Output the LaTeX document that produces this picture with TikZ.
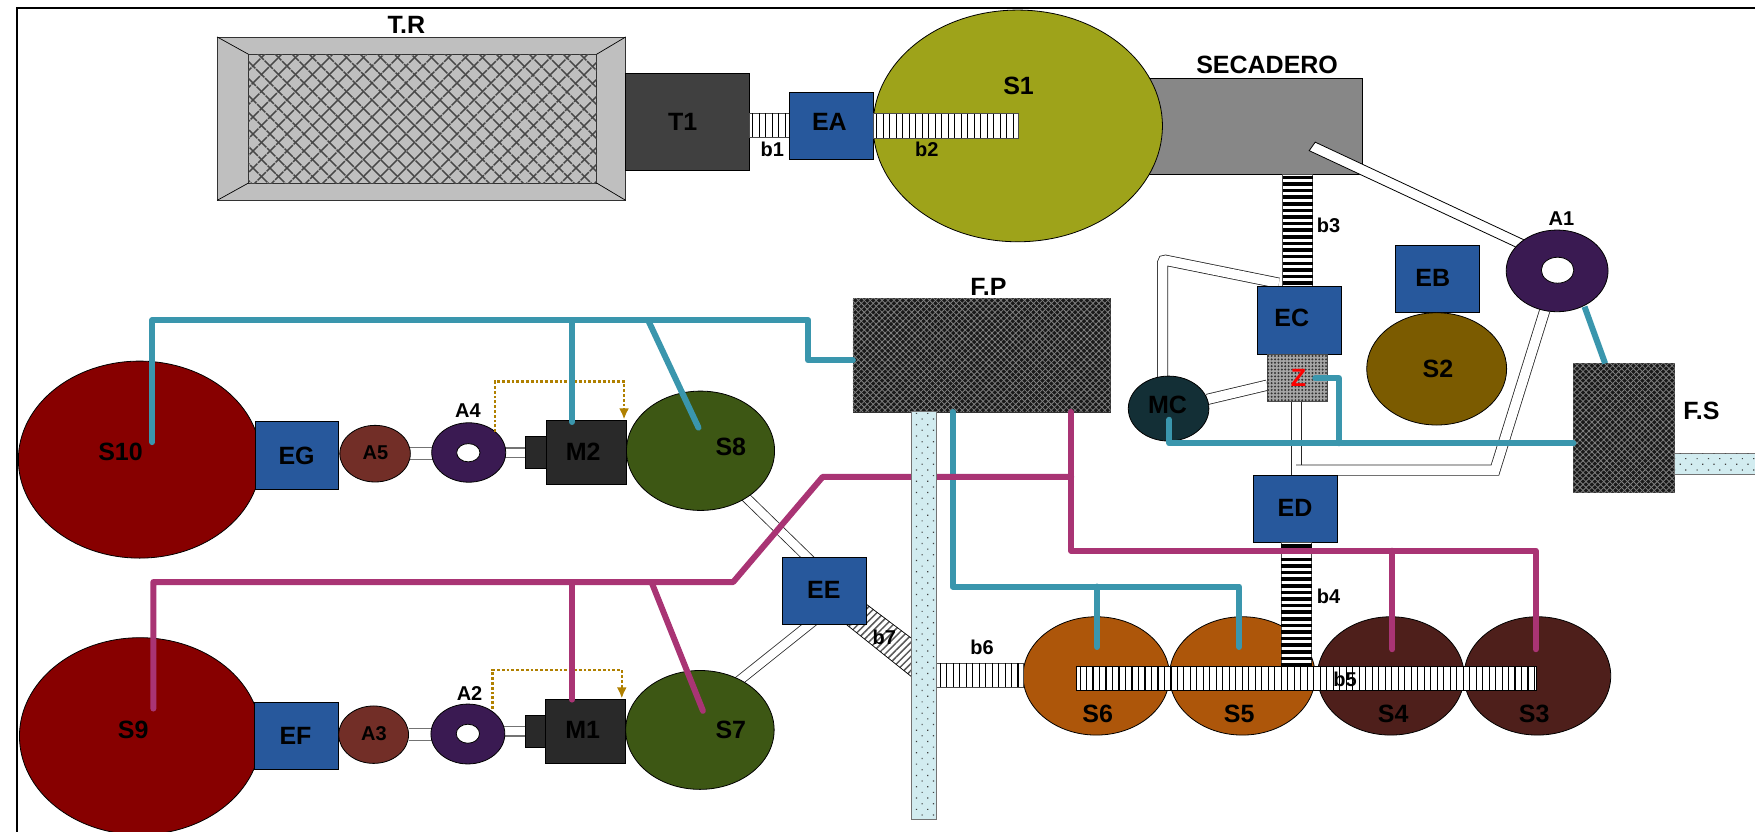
\documentclass[tikz,border=0pt]{standalone}
\usepackage{fontspec}
\setmainfont{Liberation Sans}
\usetikzlibrary{shapes.geometric,patterns.meta,arrows.meta,calc}
\definecolor{cblue}{HTML}{27589C}
\definecolor{cteal}{HTML}{3A96AD}
\definecolor{cmag}{HTML}{A93474}
\definecolor{cpur}{HTML}{3A1A52}
\definecolor{cred}{HTML}{870000}
\definecolor{cgreen}{HTML}{3D5714}
\definecolor{corange}{HTML}{AD560A}
\definecolor{cbrown}{HTML}{4E1F1B}
\definecolor{colive}{HTML}{9EA31A}
\definecolor{cochre}{HTML}{7B5B00}
\definecolor{cmc}{HTML}{132F36}
\definecolor{ca}{HTML}{722E27}
\definecolor{cdash}{HTML}{B08000}
\definecolor{cbelt}{HTML}{D2ECF0}
\pgfdeclarelayer{back}
\pgfsetlayers{back,main}
\newcommand\RB[6]{%
  \pgfmathsetmacro\mycx{(#3+#5)/2}\pgfmathsetmacro\mycy{(#4+#6)/2}%
  \pgfmathsetmacro\myw{(#5-#3)*1.1193}\pgfmathsetmacro\myh{(#6-#4)*1.1193}%
  \node[rectangle,inner sep=0pt,outer sep=0pt,minimum width=\myw pt,minimum height=\myh pt,#1] (#2) at (\mycx,\mycy) {};}
\newcommand\EL[6]{%
  \pgfmathsetmacro\mycx{(#3+#5)/2}\pgfmathsetmacro\mycy{(#4+#6)/2}%
  \pgfmathsetmacro\myw{(#5-#3)*1.1193}\pgfmathsetmacro\myh{(#6-#4)*1.1193}%
  \node[ellipse,inner sep=0pt,outer sep=0pt,minimum width=\myw pt,minimum height=\myh pt,#1] (#2) at (\mycx,\mycy) {};}
% vertical and horizontal stripes of a band
\newcommand\VST[4]{%
  \pgfmathsetmacro\sta{#1+2.9}\pgfmathsetmacro\stb{#1+8.7}%
  \foreach \sx in {\sta,\stb,...,#3} \draw[line width=1.1pt,black] (\sx,#2) -- (\sx,#4);}
\newcommand\HST[4]{%
  \pgfmathsetmacro\sta{#2+2.9}\pgfmathsetmacro\stb{#2+8.8}%
  \foreach \sy in {\sta,\stb,...,#4} \draw[line width=3.5pt,black] (#1,\sy) -- (#3,\sy);}
\tikzset{
  x=1.1193pt,y=-1.1193pt,
  shp/.style={draw=black,line width=.8pt},
  bluebox/.style={shp,fill=cblue},
  lab/.style={inner sep=0pt,font=\bfseries\fontsize{25}{25}\selectfont},
  slab/.style={inner sep=0pt,font=\bfseries\fontsize{20}{20}\selectfont},
  band/.style={draw=black!70,line width=.8pt,fill=white},
  darkhatch/.style={draw=black!80,line width=.8pt,fill=black!90,
    postaction={pattern={Lines[angle=45,distance=4.2pt,line width=.8pt]},pattern color=black!50},
    postaction={pattern={Lines[angle=-45,distance=4.2pt,line width=.8pt]},pattern color=black!50}},
  trhatch/.style={draw=black!80,line width=.8pt,fill=black!25,
    postaction={pattern={Lines[angle=45,distance=13pt,line width=1.6pt]},pattern color=black!72},
    postaction={pattern={Lines[angle=-45,distance=13pt,line width=1.6pt]},pattern color=black!72}},
  zdots/.style={draw=black!70,line width=.8pt,fill=black!35,
    postaction={pattern={Dots[distance=3.4pt,radius=1.1pt]},pattern color=black!80}},
  beltdots/.style={draw=black!55,line width=.9pt,fill=cbelt,
    postaction={pattern={Dots[angle=45,distance=8pt,radius=.85pt]},pattern color=black!75}},
  diag/.style={draw=black,line width=.7pt,preaction={fill=white},pattern={Lines[angle=45,distance=5pt,line width=1.5pt]},pattern color=black!65},
  pipe/.style={draw=black!85,line width=.8pt,double=white,double distance=#1},
  pipe/.default=9.5pt,
  gpipe/.style={draw=black!55,line width=1.2pt,double=white,double distance=#1},
  tealw/.style={draw=cteal,line width=6pt,line cap=round,line join=round},
  magw/.style={draw=cmag,line width=6pt,line cap=round,line join=round},
  dashy/.style={draw=cdash,line width=2.4pt,dash pattern=on 2.8pt off 2pt,-{Latex[length=11pt,width=10pt]}},
}
\begin{document}
\begin{tikzpicture}
\useasboundingbox (0,0) rectangle (1567.9,743.3);
% frame
\draw[line width=2.3pt] (15.3,743.3) coordinate (fbl) -- (15.3,7.2) coordinate (ftl) -- (1567.9,7.2) coordinate (ftr);
% T.R
\RB{shp,fill=black!25,draw=black!80}{TR}{194}{33}{559}{179}
\RB{trhatch}{TRin}{222}{48.5}{533}{163.5}
\draw[line width=.7pt] (TR.north west)--(TRin.north west) (TR.north east)--(TRin.north east) (TR.south west)--(TRin.south west) (TR.south east)--(TRin.south east);
\node[lab] (lTR) at (363,22) {T.R};
\RB{shp,fill=black!75}{T1}{559}{66}{669.5}{152.5}
\node[lab] (lT1) at (610,109) {T1};
\RB{band}{b1}{669.5}{101}{705}{122.7}
\VST{669.5}{101}{705}{122.7}
\node[slab] (lb1) at (690,133) {b1};
% secadero and S1
\RB{shp,fill=black!47}{SEC}{1000}{70}{1217}{155.6}
\node[lab] (lSEC) at (1132,58) {SECADERO};
\EL{shp,fill=colive}{S1}{780}{9}{1038.5}{216}
\node[lab] (lS1) at (910,77) {S1};
\RB{bluebox}{EA}{705}{82.5}{780.4}{142.4}
\node[lab] (lEA) at (741,109) {EA};
\RB{band}{b2}{780.4}{101.5}{909.5}{123.5}
\VST{780.4}{101.5}{909.5}{123.5}
\node[slab] (lb2) at (828,133) {b2};
% b3
\RB{band}{b3}{1145.8}{155.6}{1172.7}{256}
\HST{1145.8}{155.6}{1172.7}{256}
\node[slab] (lb3) at (1187,201) {b3};
% right group
\filldraw[draw=black,fill=white,line width=.8pt] (1175,127) -- (1169.6,134.6) -- (1372,229) -- (1378,222) -- cycle;
\EL{shp,fill=cpur}{A1}{1345.6}{205.5}{1436.6}{278.5}
\EL{shp,fill=white}{A1h}{1377}{229.8}{1406}{253}
\node[slab] (lA1) at (1395,195) {A1};
\RB{bluebox}{EC}{1123}{256}{1198}{316.5}
\node[lab] (lEC) at (1154,284) {EC};
\RB{zdots}{Z}{1132}{316.5}{1186}{359}
\node[lab,text=red] (lZ) at (1160,337.5) {Z};
\EL{shp,fill=cmc}{MC}{1008}{336}{1080}{394}
\node[lab] (lMC) at (1043,362) {MC};
\RB{bluebox}{EB}{1246.6}{219}{1321.6}{279}
\node[lab] (lEB) at (1280,248) {EB};
\EL{shp,fill=cochre}{S2}{1221}{279.4}{1346}{379.7}
\node[lab] (lS2) at (1284.6,330) {S2};
\RB{bluebox}{ED}{1119.6}{425}{1194.4}{485}
\node[lab] (lED) at (1157,454) {ED};
\RB{darkhatch}{FS}{1405.6}{324.7}{1496}{439.6}
\node[lab] (lFS) at (1520,367) {F.S};
\RB{beltdots}{FSb}{1496}{405}{1580}{423.7}
\begin{pgfonlayer}{back}
  \coordinate (c1) at (1038.7,232);
  \coordinate (c2) at (1142.5,253);
  \coordinate (c3) at (1335.6,420);
  \coordinate (c4) at (1158,420);
  \coordinate (c7) at (1038.7,345);
  \draw[pipe,rounded corners=3pt] (c7) -- (c1) -- (c2);
  \draw[pipe] (MC) -- (Z);
  \RB{draw=black!85,line width=.8pt,fill=white}{ZED}{1153.5}{359}{1162.6}{425}
  \draw[pipe] (A1) -- (c3) -- (c4);
\end{pgfonlayer}
% bottom right tanks
\EL{shp,fill=corange}{S6}{914}{551}{1044.8}{656.7}
\EL{shp,fill=corange}{S5}{1044.8}{551}{1175}{656.7}
\EL{shp,fill=cbrown}{S4}{1177}{551}{1308}{656.7}
\EL{shp,fill=cbrown}{S3}{1308}{551}{1439}{656.7}
\node[lab] (lS6) at (980.6,638) {S6};
\node[lab] (lS5) at (1107,638) {S5};
\node[lab] (lS4) at (1244.6,638) {S4};
\node[lab] (lS3) at (1370.6,638) {S3};
\RB{band}{b4}{1144.6}{485}{1172}{595.6}
\HST{1144.6}{485}{1172}{595.6}
\node[slab] (lb4) at (1187,533) {b4};
\RB{band,draw=black}{b5}{962}{595.6}{1372.4}{617}
\VST{962}{595.6}{1372.4}{617}
\node[slab] (lb5) at (1201.7,606.6) {b5};
\RB{band}{b6}{837}{592.4}{914}{613.9}
\VST{837}{592.4}{914}{613.9}
\node[slab] (lb6) at (877.4,578.6) {b6};
% left tanks
\EL{shp,fill=cred}{S10}{16.4}{322.6}{233}{498.6}
\node[lab] (lS10) at (107.7,404) {S10};
\RB{bluebox}{EG}{227.8}{376.6}{302.6}{437}
\node[lab] (lEG) at (265,407) {EG};
\EL{shp,fill=ca}{A5}{303.6}{380}{366.6}{430.6}
\node[slab] (lA5) at (335.4,404.4) {A5};
\EL{shp,fill=cpur}{A4}{385.7}{377.7}{451.8}{430.8}
\EL{shp,fill=white}{A4h}{408}{396.3}{428.8}{412.6}
\node[slab] (lA4) at (418,367) {A4};
\RB{shp,fill=black!84}{M2s}{469.8}{390}{487.8}{418.7}
\RB{shp,fill=black!84}{M2}{487.8}{375.7}{559.7}{433}
\node[lab] (lM2) at (521,404) {M2};
\EL{shp,fill=cgreen}{S8}{559.7}{349.4}{692}{456}
\node[lab] (lS8) at (652.9,399) {S8};
\EL{shp,fill=cred}{S9}{17.4}{569.7}{233}{745.7}
\node[lab] (lS9) at (119,652) {S9};
\RB{bluebox}{EF}{227}{627.6}{302.6}{687.6}
\node[lab] (lEF) at (264,657) {EF};
\EL{shp,fill=ca}{A3}{302.6}{630.7}{365}{682}
\node[slab] (lA3) at (334,655.7) {A3};
\EL{shp,fill=cpur}{A2}{385}{629}{451}{682.5}
\EL{shp,fill=white}{A2h}{407.6}{647}{428.4}{664}
\node[slab] (lA2) at (419.5,619.7) {A2};
\RB{shp,fill=black!84}{M1s}{469.3}{639}{487}{668}
\RB{shp,fill=black!84}{M1}{487}{624.9}{559}{682}
\node[lab] (lM1) at (520.6,652.4) {M1};
\EL{shp,fill=cgreen}{S7}{559}{599}{691.6}{705.2}
\node[lab] (lS7) at (652.9,652.4) {S7};
% b7
\filldraw[diag] (773.7,539.6) -- (814.4,570.3) -- (814.4,604.6) -- (756.7,558.4) -- cycle;
\RB{bluebox}{EE}{698.6}{497.6}{774.4}{558}
\node[lab] (lEE) at (736,527) {EE};
\node[slab] (lb7) at (790,569) {b7};
\begin{pgfonlayer}{back}
  \coordinate (p1) at (650,428.4);
  \coordinate (p2) at (735,511.2);
  \coordinate (p3) at (735,548.4);
  \coordinate (p4) at (650,616.3);
  \draw[gpipe=11pt] (A5 -| A4) -- (A5);
  \draw[gpipe=8pt] (M2s -| A4) -- (M2s);
  \draw[gpipe=11pt] (A3 -| A2) -- (A3);
  \draw[gpipe=8pt] (M1s -| A2) -- (M1s);
  \draw[pipe=8.5pt] (p1) -- (p2);
  \draw[pipe=8.5pt] (p3) -- (p4);
\end{pgfonlayer}
% dashed
\coordinate (d1) at (442,341); \coordinate (d2) at (557.5,341);
\coordinate (d3) at (440,598.8); \coordinate (d4) at (555.5,598.8);
\draw[dashy] (442,386) coordinate (d0) -- (d1) -- (d2) -- (557.5,374.7) coordinate (d5);
\draw[dashy] (440,633.3) coordinate (d6) -- (d3) -- (d4) -- (555.5,624) coordinate (d7);
% F.P
\RB{darkhatch}{FP}{762}{267}{992}{368}
\node[lab] (lFP) at (883,256) {F.P};
% teal network
\coordinate (t1) at (1044.6,396); \coordinate (t2) at (1044.6,375);
\coordinate (t3) at (1196,396); \coordinate (t4) at (1196,338); \coordinate (t5) at (1175,338);
\draw[tealw] (1405.6,396) coordinate (t0) -- (t1) -- (t2);
\draw[tealw] (t3) -- (t4) -- (t5);
\draw[tealw,line cap=butt] (1415.6,274) coordinate (t6) -- (1434,324.7) coordinate (t7);
\coordinate (u1) at (722,322); \coordinate (u2) at (722,286); \coordinate (u3) at (136,286); \coordinate (u4) at (136,395);
\draw[tealw] (FP.west |- u1) -- (u1) -- (u2) -- (u3) -- (u4);
\coordinate (u5) at (511,286); \coordinate (u6) at (511,377); \coordinate (u7) at (579,286); \coordinate (u8) at (624,382);
\draw[tealw] (u5) -- (u6);
\draw[tealw] (u7) -- (u8);
\coordinate (v1) at (851,368); \coordinate (v2) at (851,524); \coordinate (v3) at (1107,524); \coordinate (v4) at (1107,578);
\coordinate (v5) at (980,524); \coordinate (v6) at (980,578);
\draw[tealw] (v1) -- (v2) -- (v3) -- (v4);
\draw[tealw] (v5) -- (v6);
% magenta network
\coordinate (m1) at (957,368); \coordinate (m2) at (957,492); \coordinate (m3) at (1372,492); \coordinate (m4) at (1372,580);
\coordinate (m5) at (1244,492); \coordinate (m6) at (1244,580);
\draw[magw] (m1) -- (m2) -- (m3) -- (m4);
\draw[magw] (m5) -- (m6);
\coordinate (n1) at (957,426); \coordinate (n2) at (735,426); \coordinate (n3) at (655,520); \coordinate (n4) at (137,520); \coordinate (n5) at (137,633);
\draw[magw] (n1) -- (n2) -- (n3) -- (n4) -- (n5);
\coordinate (n6) at (511,520); \coordinate (n7) at (511,625); \coordinate (n8) at (582,520); \coordinate (n9) at (628,635);
\draw[magw] (n6) -- (n7);
\draw[magw] (n8) -- (n9);
% vertical belt
\RB{beltdots}{FPb}{814.4}{368}{837}{731.7}
\end{tikzpicture}
\end{document}
